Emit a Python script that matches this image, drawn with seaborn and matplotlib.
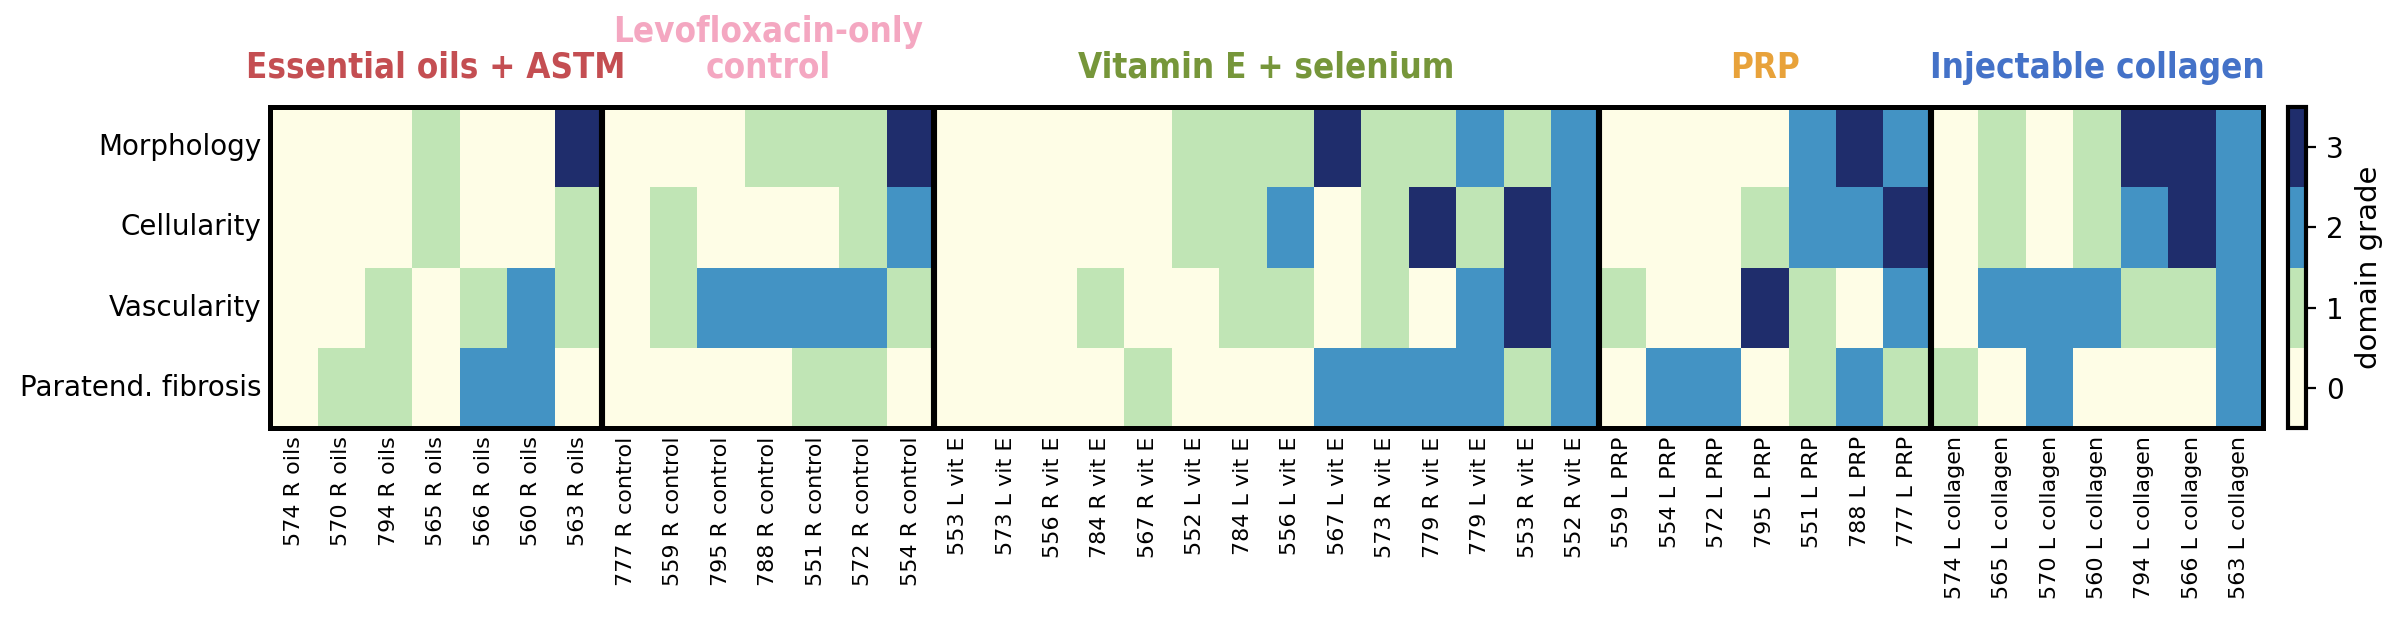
import numpy as np
import pandas as pd
import matplotlib
matplotlib.use("Agg")
import matplotlib.pyplot as plt
from matplotlib.colors import ListedColormap
import seaborn as sns

domains = ["Morphology", "Cellularity", "Vascularity", "Paratend. fibrosis"]

group_names = ["Essential oils + ASTM", "Levofloxacin-only\ncontrol",
               "Vitamin E + selenium", "PRP", "Injectable collagen"]
group_colors = ["#C44E52", "#F4A7C1", "#76963A", "#E8A23A", "#4472C8"]

oils_samples = ["574 R oils", "570 R oils", "794 R oils", "565 R oils",
                "566 R oils", "560 R oils", "563 R oils"]
oils_morph = [0, 0, 0, 1, 0, 0, 3]
oils_cell = [0, 0, 0, 1, 0, 0, 1]
oils_vasc = [0, 0, 1, 0, 1, 2, 1]
oils_para = [0, 1, 1, 0, 2, 2, 0]

ctrl_samples = ["777 R control", "559 R control", "795 R control", "788 R control",
                "551 R control", "572 R control", "554 R control"]
ctrl_morph = [0, 0, 0, 1, 1, 1, 3]
ctrl_cell = [0, 1, 0, 0, 0, 1, 2]
ctrl_vasc = [0, 1, 2, 2, 2, 2, 1]
ctrl_para = [0, 0, 0, 0, 1, 1, 0]

vite_samples = ["553 L vit E", "573 L vit E", "556 R vit E", "784 R vit E",
                "567 R vit E", "552 L vit E", "784 L vit E", "556 L vit E",
                "567 L vit E", "573 R vit E", "779 R vit E", "779 L vit E",
                "553 R vit E", "552 R vit E"]
vite_morph = [0, 0, 0, 0, 0, 1, 1, 1, 3, 1, 1, 2, 1, 2]
vite_cell = [0, 0, 0, 0, 0, 1, 1, 2, 0, 1, 3, 1, 3, 2]
vite_vasc = [0, 0, 0, 1, 0, 0, 1, 1, 0, 1, 0, 2, 3, 2]
vite_para = [0, 0, 0, 0, 1, 0, 0, 0, 2, 2, 2, 2, 1, 2]

prp_samples = ["559 L PRP", "554 L PRP", "572 L PRP", "795 L PRP",
               "551 L PRP", "788 L PRP", "777 L PRP"]
prp_morph = [0, 0, 0, 0, 2, 3, 2]
prp_cell = [0, 0, 0, 1, 2, 2, 3]
prp_vasc = [1, 0, 0, 3, 1, 0, 2]
prp_para = [0, 2, 2, 0, 1, 2, 1]

coll_samples = ["574 L collagen", "565 L collagen", "570 L collagen", "560 L collagen",
                "794 L collagen", "566 L collagen", "563 L collagen"]
coll_morph = [0, 1, 0, 1, 3, 3, 2]
coll_cell = [0, 1, 0, 1, 2, 3, 2]
coll_vasc = [0, 2, 2, 2, 1, 1, 2]
coll_para = [1, 0, 2, 0, 0, 0, 2]

grade_colors = ["#FEFDE6", "#C0E5B5", "#4393C4", "#1F2D6C"]
grade_ticks = [0, 1, 2, 3]

groups = [
    (oils_samples, [oils_morph, oils_cell, oils_vasc, oils_para]),
    (ctrl_samples, [ctrl_morph, ctrl_cell, ctrl_vasc, ctrl_para]),
    (vite_samples, [vite_morph, vite_cell, vite_vasc, vite_para]),
    (prp_samples, [prp_morph, prp_cell, prp_vasc, prp_para]),
    (coll_samples, [coll_morph, coll_cell, coll_vasc, coll_para]),
]

frames = []
for samples, rows in groups:
    frames.append(pd.DataFrame(rows, index=domains, columns=samples))
df = pd.concat(frames, axis=1)

sns.set_style("white")
plt.rcParams["font.family"] = ["DejaVu Sans"]
plt.rcParams["text.color"] = "black"
plt.rcParams["axes.labelcolor"] = "black"
plt.rcParams["xtick.color"] = "black"
plt.rcParams["ytick.color"] = "black"

fig = plt.figure(figsize=(11.96, 3.085), dpi=200)
ax = fig.add_axes([0.1129, 0.3063, 0.8332, 0.5203])
cax = fig.add_axes([0.9565, 0.3063, 0.0077, 0.5203])

cmap = ListedColormap(grade_colors)
sns.heatmap(df, ax=ax, cbar_ax=cax, cmap=cmap, vmin=-0.5, vmax=3.5,
            linewidths=0, cbar_kws={"ticks": grade_ticks})

ax.tick_params(axis="both", length=0, pad=3, colors="black")
ax.set_yticklabels(domains, rotation=0, fontsize=10)
ax.set_xticklabels(df.columns, rotation=90, fontsize=8)
ax.set_xlabel("")
ax.set_ylabel("")

for sp in ax.spines.values():
    sp.set_visible(True)
    sp.set_linewidth(1.8)
    sp.set_color("black")

bounds = np.cumsum([len(s) for s, _ in groups])
for b in bounds[:-1]:
    ax.axvline(b, color="black", lw=2.2)

start = 0
for (samples, _), name, col in zip(groups, group_names, group_colors):
    center = start + len(samples) / 2
    ax.text(center, 1.07, name, transform=ax.get_xaxis_transform(),
            ha="center", va="bottom", fontsize=12.5, fontweight="bold",
            fontstretch="condensed", color=col, linespacing=1.05)
    start += len(samples)

cbar = ax.collections[0].colorbar
cbar.outline.set_visible(True)
cbar.outline.set_linewidth(1.5)
cbar.outline.set_edgecolor("black")
cbar.ax.tick_params(labelsize=10, length=3.5, width=0.8, direction="out",
                    right=True, colors="black")
cbar.set_label("domain grade", fontsize=10.5, color="black")

fig.savefig("out.png", dpi=200)
